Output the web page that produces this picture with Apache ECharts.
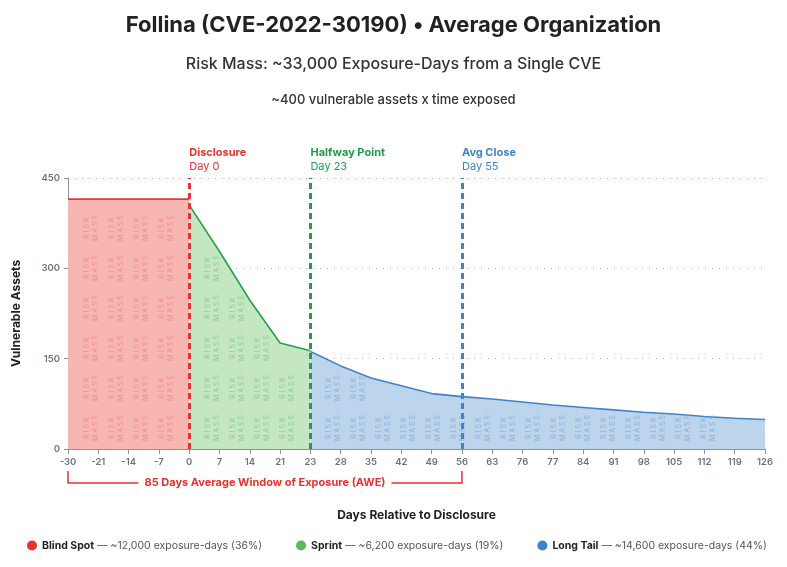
<!DOCTYPE html>
<html>
<head>
<meta charset="utf-8">
<script src="https://cdn.jsdelivr.net/npm/echarts@6/dist/echarts.min.js"></script>
<style>
    html, body {margin: 0; padding: 0; background: #fff;}
    #chart {width: 787px; height: 567px;}
</style>
</head>
<body>
<div id="chart"></div>
<script>
// 数据
let days = ['-30', '-21', '-14', '-7', '0', '7', '14', '21', '23', '28', '35', '42', '49', '56',
    '63', '76', '77', '84', '91', '98', '105', '112', '119', '126'];
let blindSpot = [415, 415, 415, 415, 415, '-', '-', '-', '-', '-', '-', '-', '-', '-',
    '-', '-', '-', '-', '-', '-', '-', '-', '-', '-'];
let sprint = ['-', '-', '-', '-', 405, 328, 247, 176, 163, '-', '-', '-', '-', '-',
    '-', '-', '-', '-', '-', '-', '-', '-', '-', '-'];
let longTail = ['-', '-', '-', '-', '-', '-', '-', '-', 162, 138, 118, 105, 92, 87,
    83, 78, 73, 69, 65, 61, 58, 54, 51, 49];
let seriesNames = ['Blind Spot', 'Sprint', 'Long Tail'];
let legendNotes = ['~12,000 exposure-days (36%)', '~6,200 exposure-days (19%)', '~14,600 exposure-days (44%)'];
let markerNames = ['Disclosure', 'Halfway Point', 'Avg Close'];
let markerSubs = ['Day 0', 'Day 23', 'Day 55'];
let markerDays = ['0', '23', '56'];
let aweRange = ['-30', '56'];
let aweText = '85 Days Average Window of Exposure (AWE)';

let font = 'Inter, "Open Sans", sans-serif';
let lineColors = ['#e53935', '#27a048', '#3f84c8'];
let areaColors = ['#f8b6b2', '#c4e6c1', '#bcd4ec'];
let patternColors = ['#ee8f8c', '#8fcd93', '#8db2da'];
let markerColors = ['#e8322c', '#1f9e4a', '#3d84cc'];
let dotColors = ['#e8322c', '#5cb85c', '#3d84cc'];

let chart = echarts.init(document.getElementById('chart'));

// 在曲线下方铺 "RISK MASS" 文字
function curveY(pts, x) {
    for (let i = 0; i < pts.length - 1; i++) {
        if (x >= pts[i][0] && x <= pts[i + 1][0]) {
            let t = (x - pts[i][0]) / (pts[i + 1][0] - pts[i][0]);
            return pts[i][1] + t * (pts[i + 1][1] - pts[i][1]);
        }
    }
    return pts[pts.length - 1][1];
}

function patternItem(values, color) {
    return function (params, api) {
        let idx = [];
        for (let i = 0; i < values.length; i++) {
            if (values[i] !== '-') idx.push(i);
        }
        let pts = idx.map(function (i) { return api.coord([i, values[i]]); });
        let bottom = api.coord([idx[0], 0])[1];
        let children = [];
        for (let x = pts[0][0] + 23; x + 7 <= pts[pts.length - 1][0]; x += 25) {
            let top = curveY(pts, x);
            for (let y = bottom - 21; y - 12 >= top - 1; y -= 40) {
                children.push({
                    type: 'text', x: x, y: y, rotation: Math.PI / 2,
                    style: {
                        text: 'R I S K\nM A S S', fill: color, fontSize: 7, fontFamily: font,
                        align: 'center', verticalAlign: 'middle', lineHeight: 9
                    }
                });
            }
        }
        return {type: 'group', children: children};
    };
}

function aweItem(params, api) {
    let a = api.coord([days.indexOf(aweRange[0]), 0]);
    let b = api.coord([days.indexOf(aweRange[1]), 0]);
    let y1 = a[1] + 22, y2 = a[1] + 34;
    return {
        type: 'group', children: [
            {
                type: 'polyline',
                shape: {points: [[a[0], y1], [a[0], y2], [b[0], y2], [b[0], y1]]},
                style: {stroke: '#e8322c', lineWidth: 1.5, fill: null}
            },
            {
                type: 'text', x: (a[0] + b[0]) / 2, y: y2,
                style: {
                    text: aweText, fill: '#e8322c', fontSize: 11, fontWeight: 'bold', fontFamily: font,
                    align: 'center', verticalAlign: 'middle', backgroundColor: '#fff', padding: [2, 6]
                }
            }
        ]
    };
}

let allValues = [blindSpot, sprint, longTail];
let series = [];
for (let i = 0; i < 3; i++) {
    series.push({
        name: seriesNames[i], type: 'line', data: allValues[i], z: 2,
        showSymbol: false, smooth: false,
        itemStyle: {color: dotColors[i]},
        lineStyle: {color: lineColors[i], width: 1.6},
        areaStyle: {color: areaColors[i], opacity: 1}
    });
}
for (let i = 0; i < 3; i++) {
    series.push({
        type: 'custom', name: 'pattern' + i, data: [[0, 0]], z: 3, silent: true,
        renderItem: patternItem(allValues[i], patternColors[i])
    });
}
series.push({
    type: 'line', name: 'markers', data: days.map(function () { return '-'; }), z: 10, silent: true,
    markLine: {
        symbol: 'none', silent: true, animation: false,
        data: markerDays.map(function (d, i) {
            return {
                xAxis: days.indexOf(d),
                lineStyle: {color: markerColors[i], type: [6, 4], width: 3},
                label: {
                    position: 'end', align: 'left', distance: 4,
                    formatter: '{t|' + markerNames[i] + '}\n{d|' + markerSubs[i] + '}',
                    rich: {
                        t: {fontSize: 11, fontWeight: 'bold', color: markerColors[i], fontFamily: font, lineHeight: 14},
                        d: {fontSize: 11, color: markerColors[i], fontFamily: font, lineHeight: 14}
                    }
                }
            };
        })
    }
});
series.push({
    type: 'custom', name: 'awe', data: [[0, 0]], z: 10, silent: true, clip: false,
    renderItem: aweItem
});

let option = {
    backgroundColor: '#fff',
    animation: false,
    textStyle: {fontFamily: font},
    title: [
        {
            text: 'Follina (CVE-2022-30190) • Average Organization', left: 'center', top: 9,
            textStyle: {fontSize: 22, fontWeight: 'bold', color: '#222', fontFamily: font}
        },
        {
            text: 'Risk Mass: ~33,000 Exposure-Days from a Single CVE', left: 'center', top: 51,
            textStyle: {fontSize: 16, fontWeight: 500, color: '#333', fontFamily: font}
        },
        {
            text: '~400 vulnerable assets x time exposed', left: 'center', top: 89,
            textStyle: {fontSize: 13, fontWeight: 500, color: '#333', fontFamily: font}
        }
    ],
    legend: {
        data: seriesNames, top: 535, left: 22, right: 0, icon: 'circle',
        itemWidth: 10, itemHeight: 10, itemGap: 34, selectedMode: false,
        formatter: function (name) {
            return '{b|' + name + '}{r| — ' + legendNotes[seriesNames.indexOf(name)] + '}';
        },
        textStyle: {
            rich: {
                b: {fontSize: 10.5, fontWeight: 'bold', color: '#222', fontFamily: font},
                r: {fontSize: 10.5, color: '#555', fontFamily: font}
            }
        }
    },
    grid: {left: 68, right: 22, top: 178, bottom: 118, containLabel: false},
    xAxis: {
        type: 'category', data: days, boundaryGap: false,
        axisLine: {lineStyle: {color: '#8a93a3', width: 1}},
        axisTick: {show: true, length: 5, lineStyle: {color: '#8a93a3'}},
        axisLabel: {color: '#6b7280', fontSize: 9.5, fontWeight: 600, interval: 0, margin: 8},
        splitLine: {show: false},
        name: 'Days Relative to Disclosure', nameLocation: 'middle', nameGap: 60,
        nameTextStyle: {fontSize: 12, fontWeight: 'bold', color: '#222'}
    },
    yAxis: {
        type: 'value', min: 0, max: 450, interval: 150,
        axisLine: {show: true, lineStyle: {color: '#8a93a3', width: 1}},
        axisTick: {show: true, length: 4, lineStyle: {color: '#8a93a3'}},
        axisLabel: {color: '#6b7280', fontSize: 9.5, fontWeight: 600, margin: 8},
        splitLine: {show: true, lineStyle: {color: '#aaa', type: [1, 6], width: 1.2}},
        name: 'Vulnerable Assets', nameLocation: 'middle', nameGap: 46,
        nameTextStyle: {fontSize: 12, fontWeight: 'bold', color: '#222'}
    },
    series: series
};
chart.setOption(option);
</script>
</body>
</html>
